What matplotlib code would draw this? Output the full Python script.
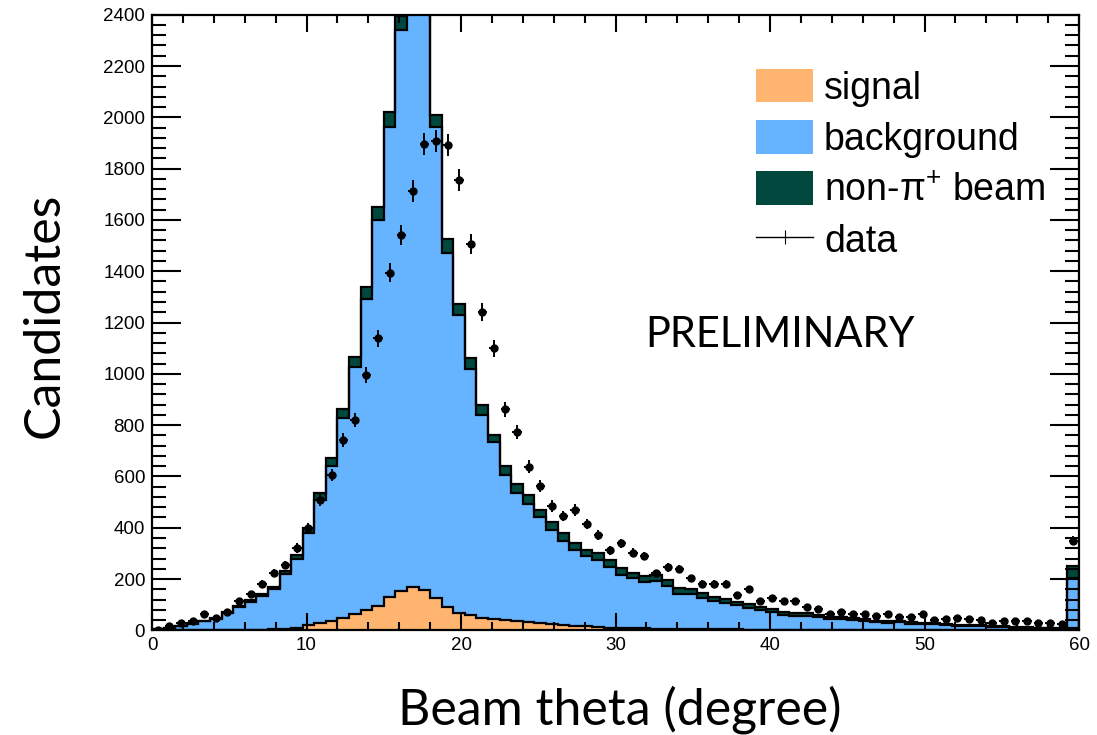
import numpy as np
import matplotlib
matplotlib.use("Agg")
import matplotlib.pyplot as plt
from matplotlib.patches import Patch
from matplotlib.lines import Line2D

plt.rcParams["mathtext.fontset"] = "custom"
plt.rcParams["mathtext.rm"] = "Liberation Sans"
plt.rcParams["mathtext.it"] = "Liberation Sans:italic"

# 80 bins of 0.75 degree between 0 and 60
edges = np.linspace(0, 60, 81)

signal = [0, 0, 0, 0, 0, 1, 1, 1, 2, 3,
          5, 7, 10, 20, 28, 38, 47, 64, 78, 94,
          130, 153, 170, 157, 125, 92, 69, 60, 50, 46,
          42, 37, 33, 30, 25, 21, 18, 15, 13, 11,
          10, 9, 8, 7, 6, 6, 5, 5, 4, 4,
          4, 3, 3, 3, 3, 2, 2, 2, 2, 2,
          1, 1, 1, 1, 1, 1, 1, 1, 1, 1,
          1, 1, 1, 1, 1, 1, 1, 1, 1, 8]

background = [4, 9, 15, 25, 35, 44, 67, 89, 110, 130,
              155, 211, 268, 358, 480, 603, 781, 962, 1214, 1505,
              1832, 2187, 2488, 2463, 1837, 1380, 1161, 960, 790, 687,
              564, 497, 458, 411, 366, 327, 295, 276, 261, 237,
              206, 194, 182, 187, 166, 136, 135, 121, 110, 104,
              93, 85, 76, 67, 58, 54, 55, 49, 43, 41,
              39, 35, 31, 28, 31, 25, 24, 23, 19, 17,
              17, 15, 13, 11, 10, 10, 8, 7, 6, 195]

non_pi_beam = [1, 1, 2, 2, 3, 3, 4, 5, 6, 7,
               8, 12, 17, 22, 28, 32, 34, 38, 48, 50,
               60, 55, 62, 60, 48, 52, 42, 40, 38, 28,
               34, 36, 36, 28, 32, 30, 26, 22, 26, 26,
               26, 22, 22, 20, 24, 24, 20, 18, 17, 16,
               15, 14, 13, 12, 11, 10, 10, 9, 8, 8,
               7, 7, 6, 6, 6, 5, 5, 5, 4, 4,
               4, 3, 3, 3, 3, 2, 2, 2, 2, 48]

data = [3, 18, 29, 36, 62, 50, 72, 115, 140, 182,
        225, 254, 321, 399, 508, 605, 742, 820, 995, 1138,
        1394, 1540, 1713, 1895, 1908, 1891, 1756, 1505, 1240, 1100,
        862, 772, 638, 563, 485, 446, 469, 414, 370, 313,
        339, 303, 290, 222, 245, 241, 203, 181, 181, 181,
        138, 160, 115, 125, 115, 115, 92, 82, 63, 72,
        63, 63, 56, 64, 51, 51, 64, 40, 43, 47,
        43, 40, 27, 38, 38, 38, 27, 27, 25, 350]

c_sig = "#ffb570"
c_bkg = "#66b3ff"
c_beam = "#00473e"

sig = np.array(signal, float)
bkg = np.array(background, float)
beam = np.array(non_pi_beam, float)
dat = np.array(data, float)
centers = 0.5 * (edges[:-1] + edges[1:])

lvl1 = sig
lvl2 = sig + bkg
lvl3 = sig + bkg + beam

fig = plt.figure(figsize=(10.97, 7.35), dpi=100)
ax = fig.add_axes([0.1386, 0.1424, 0.8450, 0.8376])

# stacked histogram, ROOT style: filled, each level outlined in black
ax.stairs(lvl3, edges, fill=True, color=c_beam, lw=0)
ax.stairs(lvl2, edges, fill=True, color=c_bkg, lw=0)
ax.stairs(lvl1, edges, fill=True, color=c_sig, lw=0)
for lv in (lvl3, lvl2, lvl1):
    ax.stairs(lv, edges, color="black", lw=1.6)

ax.errorbar(centers, dat, yerr=np.sqrt(dat), xerr=0.3, fmt="o", color="black",
            ms=5, elinewidth=1.4, capsize=0, zorder=5)

ax.set_xlim(0, 60)
ax.set_ylim(0, 2400)
ax.set_xticks(np.arange(0, 61, 10))
ax.set_xticks(np.arange(0, 61, 2), minor=True)
ax.set_yticks(np.arange(0, 2401, 200))
ax.set_yticks(np.arange(0, 2401, 40), minor=True)

tick_font = "Liberation Sans"
for lab in ax.get_xticklabels() + ax.get_yticklabels():
    lab.set_family(tick_font)
ax.tick_params(axis="both", which="both", direction="in", top=True, right=True,
               labelsize=13.5, width=1.5)
ax.tick_params(axis="y", which="major", length=21, pad=5)
ax.tick_params(axis="y", which="minor", length=10)
ax.tick_params(axis="x", which="major", length=12, pad=5)
ax.tick_params(axis="x", which="minor", length=6)
for sp in ax.spines.values():
    sp.set_linewidth(1.6)

fig.text(0.041, 0.571, "Candidates", rotation=90, ha="center", va="center",
         fontsize=36, family="Lato")
fig.text(0.565, 0.034, "Beam theta (degree)", ha="center", va="center",
         fontsize=36, family="Lato")
ax.text(0.677, 0.48, "PRELIMINARY", transform=ax.transAxes, ha="center",
        va="center", fontsize=30, family="Lato")

handles = [
    Patch(facecolor=c_sig, edgecolor="none"),
    Patch(facecolor=c_bkg, edgecolor="none"),
    Patch(facecolor=c_beam, edgecolor="none"),
    Line2D([0], [0], color="black", lw=1.0, marker="|", ms=10, mew=0.8),
]
labels = ["signal", "background", "non-\u03c0$^{+}$ beam", "data"]
ax.legend(handles, labels, loc="upper left", bbox_to_anchor=(0.652, 0.912),
          frameon=False, prop={"family": tick_font, "size": 27},
          handlelength=1.5, handleheight=1.0, handletextpad=0.3,
          labelspacing=0.36, borderaxespad=0, borderpad=0)

fig.savefig("out.png", dpi=100)
